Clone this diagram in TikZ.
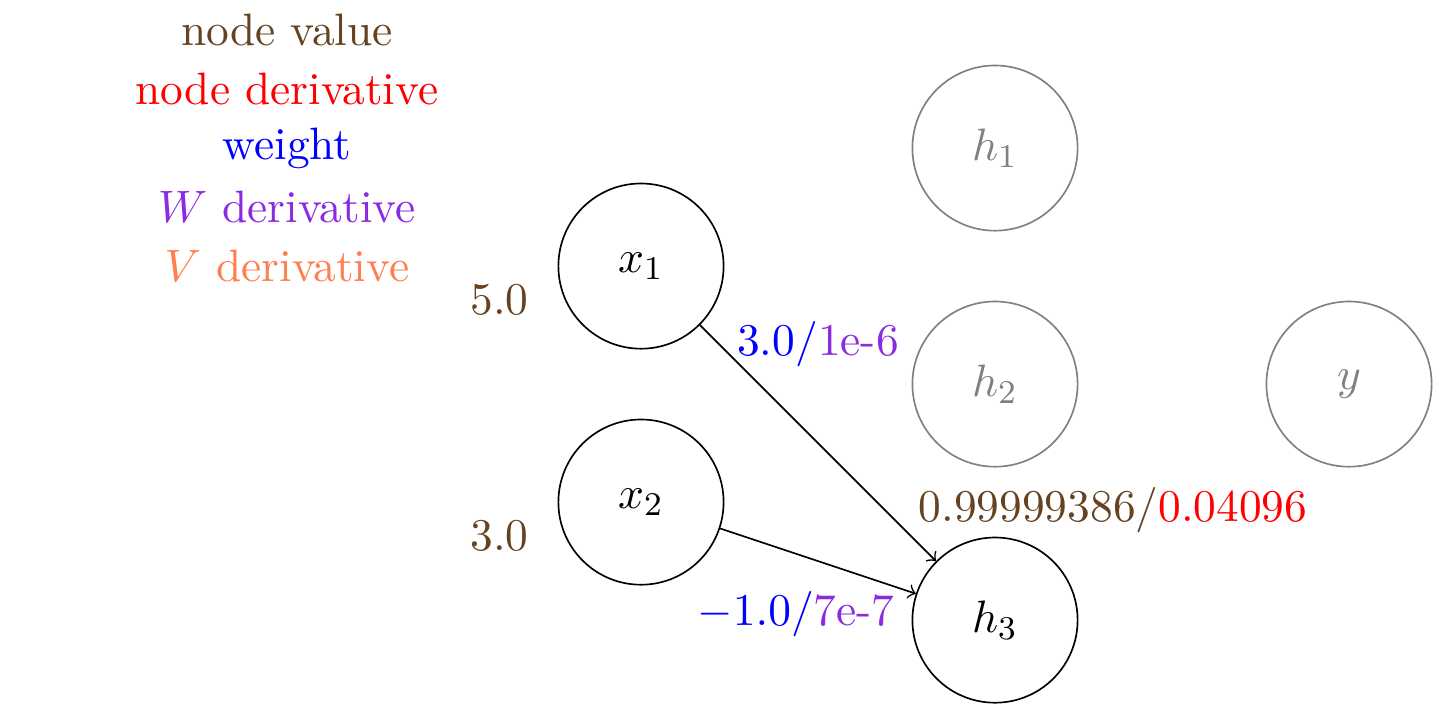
\documentclass[tikz,border=0pt,11pt]{standalone}
\usepackage{tikz}
\usetikzlibrary{positioning}

\definecolor{valbrown}{RGB}{101,67,33}
\definecolor{wderiv}{RGB}{138,43,226}
\definecolor{vderiv}{RGB}{255,127,80}

\tikzset{
    neuron/.style={circle,draw,minimum size=1.4cm},
    faded/.style={neuron,draw=gray,text=gray}
}

\begin{document}
\begin{tikzpicture}
    \useasboundingbox (-5.432,-0.72) rectangle (6.72,5.255);
    % legend
    \node[valbrown] (lval) at (-3,5) {node value};
    \node[red] (lnder) at (-3,4.5) {node derivative};
    \node[blue] (lw) at (-3,4) {weight};
    \node[wderiv] (lwder) at (-3,3.5) {$W$ derivative};
    \node[vderiv] (lvder) at (-3,3) {$V$ derivative};

    % network
    \node[neuron] (x1) at (0,3) {$x_1$};
    \node[neuron] (x2) at (0,1) {$x_2$};
    \node[faded] (h1) at (3,4) {$h_1$};
    \node[faded] (h2) at (3,2) {$h_2$};
    \node[neuron] (h3) at (3,0) {$h_3$};
    \node[faded] (y) at (6,2) {$y$};

    \node[valbrown] (v1) at (-1.2,2.71) {5.0};
    \node[valbrown] (v2) at (-1.2,0.71) {3.0};
    \node (v3) at (4.0,0.93) {\textcolor{valbrown}{0.99999386/}\textcolor{red}{0.04096}};

    \draw[->] (x1) -- (h3);
    \draw[->] (x2) -- (h3);
    \node (w13) at (1.5,2.34) {\textcolor{blue}{3.0/}\textcolor{wderiv}{1e-6}};
    \node (w23) at (1.314,0.05) {\textcolor{blue}{$-1.0$/}\textcolor{wderiv}{7e-7}};
\end{tikzpicture}
\end{document}
